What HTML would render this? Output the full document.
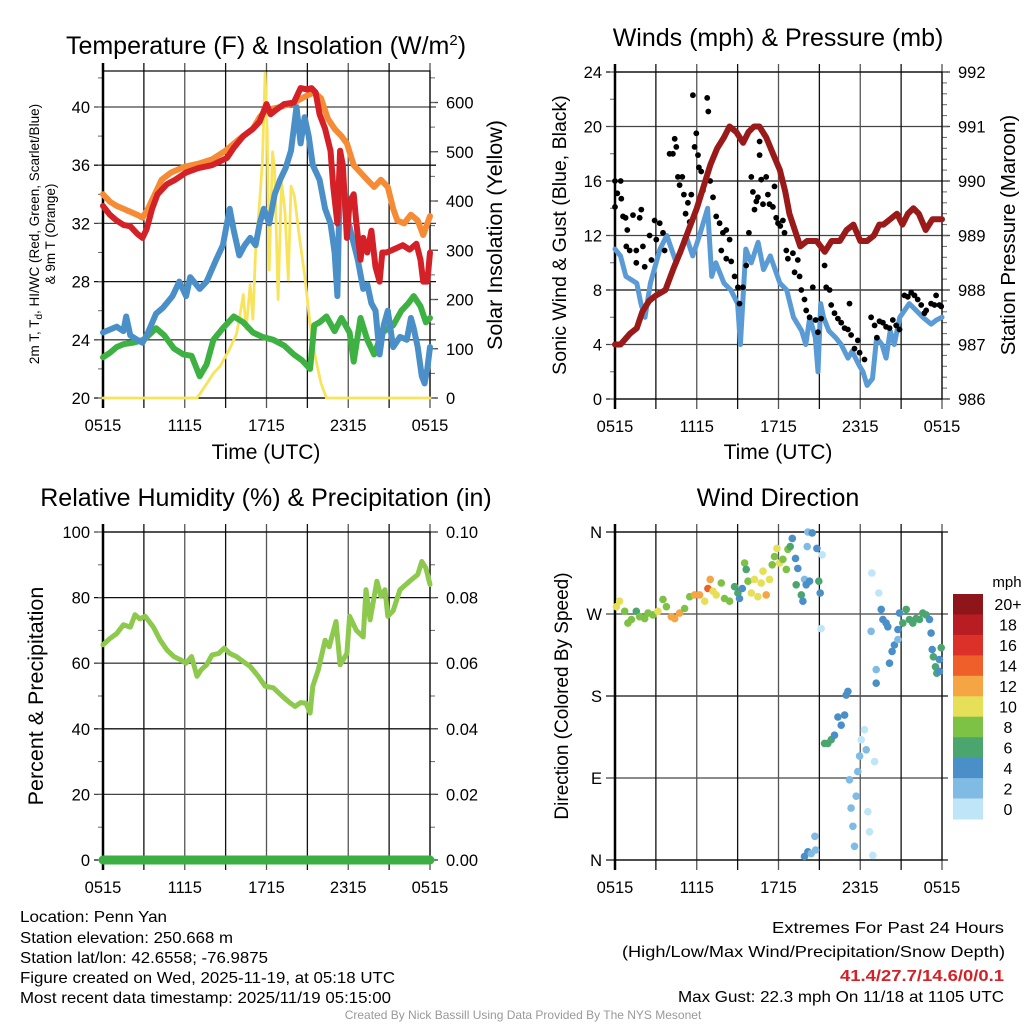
<!DOCTYPE html>
<html><head><meta charset="utf-8"><style>
html,body{margin:0;padding:0;background:#fff;}
svg{display:block;font-family:"Liberation Sans",Arial,sans-serif;}
</style></head><body>
<svg id="chart" width="1024" height="1024" viewBox="0 0 1024 1024" xmlns="http://www.w3.org/2000/svg">
<rect width="1024" height="1024" fill="#fff"/>
<g id="g-tl"></g>
<g id="g-tr"></g>
<g id="g-bl"></g>
<g id="g-br"></g>
<g id="g-cb"></g>

<text x="20" y="922" font-size="16" textLength="147" lengthAdjust="spacingAndGlyphs">Location: Penn Yan</text>
<text x="20" y="943" font-size="16" textLength="213" lengthAdjust="spacingAndGlyphs">Station elevation: 250.668 m</text>
<text x="20" y="963" font-size="16" textLength="248" lengthAdjust="spacingAndGlyphs">Station lat/lon: 42.6558; -76.9875</text>
<text x="20" y="983" font-size="16" textLength="375" lengthAdjust="spacingAndGlyphs">Figure created on Wed, 2025-11-19, at 05:18 UTC</text>
<text x="20" y="1003" font-size="16" textLength="371" lengthAdjust="spacingAndGlyphs">Most recent data timestamp: 2025/11/19 05:15:00</text>
<text x="772" y="933" font-size="16" textLength="232" lengthAdjust="spacingAndGlyphs">Extremes For Past 24 Hours</text>
<text x="622" y="957" font-size="16" textLength="383" lengthAdjust="spacingAndGlyphs">(High/Low/Max Wind/Precipitation/Snow Depth)</text>
<text x="840" y="981" font-size="16" font-weight="bold" fill="#d42027" textLength="164" lengthAdjust="spacingAndGlyphs">41.4/27.7/14.6/0/0.1</text>
<text x="678" y="1002" font-size="16" textLength="326" lengthAdjust="spacingAndGlyphs">Max Gust: 22.3 mph On 11/18 at 1105 UTC</text>
<text x="523" y="1019" font-size="12" fill="#999" text-anchor="middle">Created By Nick Bassill Using Data Provided By The NYS Mesonet</text>
</svg>
<script>
// ---- shared axis data ----
const timeTickLabels = ["0515","1115","1715","2315","0515"];
const timeTickHours = [0,6,12,18,24];

// ---- temperature panel data ----
const redH = [0,0.5,1,1.5,2,2.5,2.9,3.2,3.6,4,4.7,5.3,6.1,7,8,9.1,9.6,10.3,11,11.5,12,12.3,12.7,13.3,14,14.5,15,15.3,15.6,15.9,16.3,16.7,16.9,17.2,17.4,17.6,17.9,18.1,18.4,18.6,18.9,19.1,19.4,19.7,20,20.3,20.5,20.8,21.3,22,22.5,23,23.3,23.5,23.8,24];
const redV = [33.2,32.6,32.2,31.9,31.8,31.3,31.0,31.6,33,34,34.7,35,35.5,35.8,36,36.5,37.2,38,38.5,39,40.2,39.5,39.8,40.2,40.3,41.3,41.2,41.3,41,39.5,38.5,37,34.5,32,37,36,31,33.5,34,32,29.5,31,30,31.5,29,28,30,30,30.2,30.5,30.2,30.6,29.5,28,28,30];
const orangeH = [0,0.5,1,1.5,2,2.5,2.9,3.3,3.8,4.3,5,6,7,8,9,10,11,11.5,12,13,14,15,15.5,16,16.5,17,17.5,17.9,18.4,18.9,19.4,19.9,20.4,20.9,21.3,21.6,22.1,22.6,23.1,23.5,24];
const orangeV = [34,33.5,33.2,33,32.8,32.6,32.4,33,34,35,35.5,35.9,36.1,36.4,37,37.8,38.5,39.3,39.8,40,40.3,40.8,41,40.6,39.2,38.5,38,37.5,36,35.5,35,34.5,35,34.5,33,32.2,32,32.6,32.2,31.2,32.5];
const blueH = [0,0.5,1,1.5,1.7,2,2.5,2.9,3.3,3.9,4.4,5.1,5.6,6.1,6.4,7.1,7.6,8.3,8.8,9.3,9.6,10,10.4,10.8,11.2,11.5,11.8,12.2,12.6,13,13.4,13.8,14.2,14.5,14.8,15.1,15.4,15.9,16.3,16.7,17,17.2,17.4,17.7,17.9,18.3,18.7,19.1,19.4,19.7,20,20.3,20.6,20.9,21.3,21.8,22.3,22.6,22.8,23.1,23.4,23.6,23.8,24];
const blueV = [24.5,24.7,24.9,24.6,25.6,24.3,24.0,23.8,24.5,25.8,26.2,27,28,27,28.3,27.5,28,29.5,30.5,33,31.5,29.8,30.5,31,30.5,32,33,32,34,35,35.8,37,40,37.5,39.3,38,36,35,33,32,30,27,36,34,32.5,31,29.5,27.5,27.8,26.5,26,23,25,26,23.5,24.2,24,25.5,24.8,23.5,21.5,21,22,23.5];
const greenH = [0,0.5,1,1.5,2.2,3,3.9,4.5,5.2,5.9,6.5,7.1,7.6,8.1,8.8,9.6,10.3,11,11.7,12.5,13.3,14,14.6,15.2,15.5,15.9,16.4,17,17.5,18.1,18.4,18.9,19.4,19.9,20.5,21.3,21.9,22.4,22.8,23.3,23.7,24];
const greenV = [22.8,23.1,23.5,23.7,23.8,24,24.8,24.3,23.4,23,22.9,21.5,22.3,24,24.8,25.6,25.2,24.5,24.2,24,23.6,23,22.6,22,25,25.2,25.6,24.6,25.5,24.5,22.5,25.5,24,23,24.5,25,26,26.5,27,26.3,25.2,25.5];
const solarH = [0,6.9,7.4,8.1,8.6,9.3,9.8,10,10.3,10.5,10.8,11,11.2,11.5,11.7,11.9,12.05,12.2,12.45,12.6,12.85,13.1,13.35,13.6,13.8,14.05,14.4,14.8,15.2,15.6,16.0,16.4,24];
const solarV = [0,0,20,50,65,100,130,160,210,140,230,160,300,400,480,660,540,260,500,460,200,440,380,240,430,410,330,250,150,80,30,0,0];

// ---- wind panel data ----
const presH = [0,0.4,1.1,1.6,2,2.5,3,3.7,4.3,4.8,5.4,6,6.5,7,7.5,8,8.4,8.9,9.4,9.8,10.2,10.6,11.1,11.6,12.1,12.5,12.8,13.2,13.6,14.1,14.8,15.1,15.4,15.9,16.5,17,17.5,18,18.5,19,19.4,19.7,20.2,20.7,21.1,21.5,21.9,22.3,22.8,23.3,24];
const presV = [987,987,987.2,987.3,987.6,987.8,987.9,988,988.4,988.7,989.1,989.5,989.9,990.3,990.6,990.8,991,990.9,990.7,990.9,991,991,990.8,990.5,990.2,989.8,989.4,989.1,988.8,988.9,988.9,988.8,988.7,988.9,988.9,989.1,989.2,988.9,988.9,989,989.2,989.2,989.3,989.4,989.2,989.4,989.5,989.4,989.1,989.3,989.3];
const windH = [0,0.4,0.8,1.6,1.9,2.2,2.6,3.3,3.8,4.5,5.2,5.7,6.2,6.8,7.1,7.4,8,8.5,9,9.2,9.6,10,10.5,10.9,11.4,12.1,12.6,13.1,13.7,14,14.3,14.7,14.9,15.1,15.3,15.7,16.2,16.6,17.1,17.4,17.9,18.2,18.5,18.9,19.2,19.6,19.9,20.2,20.5,20.9,21.6,22.1,22.6,23.2,23.6,24];
const windV = [11,10.5,9,8.5,7,6,8.5,11,12,10,12,10.5,12,14,9,10,8.5,8,7,4,11,10,11.5,9.5,10.5,8.5,8,6,5,4,6,4.5,2,7,6,5,4.5,4,3,3.5,2.5,2,1,1.5,4.5,4,3,5,4,6,7,6.5,6,5.5,5.8,6];
const gustH = [0,0,0.17,0.42,0.46,0.59,0.78,0.9,0.83,1.08,1.32,1.56,1.56,1.81,1.93,2.05,2.18,2.54,2.67,2.91,3.03,3.28,3.52,3.64,4.01,4.25,4.38,4.5,4.62,4.74,4.94,5.06,5.18,5.35,5.48,5.6,5.72,5.84,5.97,6.09,6.16,6.33,6.45,6.77,6.85,6.99,7.19,7.43,7.68,7.92,8.17,8.41,7.8,8.17,8.53,8.78,9.02,9.39,9.14,9.63,9.83,10,10.12,10.24,10.37,10.49,10.61,10.61,10.73,10.86,11.1,11.22,11.34,11.59,11.71,11.83,11.96,12.13,12.32,12.44,12.57,12.69,13.06,13.18,13.42,13.55,13.67,13.91,14.03,14.28,14.52,14.72,14.89,15.13,15.38,15.5,15.75,15.87,16.11,16.36,16.6,16.85,17.09,17.21,17.33,17.58,17.82,17.95,18.31,18.8,19.05,19.22,19.41,19.66,19.9,20.15,20.39,20.64,20.88,21.25,21.49,21.74,21.98,22.22,22.47,22.71,22.84,23.2,23.45,23.57,23.81,23.94];
const gustV = [16,14.1,15.1,16,14.7,13.4,13.3,12.4,11.2,10.9,13.5,10.9,10,13.3,13.9,11.2,9.7,12,10.2,13.1,11.7,12.9,12.2,10.9,18,18,19.1,18.5,16.3,15.7,16.3,15,13.6,14.4,13,15,22.3,18.5,19.5,17.9,17,16.7,15.3,22.1,21.1,16,14.8,13.4,12.9,12.2,12.4,11.7,10.9,10.3,10.1,9,8.2,8.2,7,9.8,12.2,16.3,15.2,13.9,14.5,14.8,17.9,18.9,16.1,14.3,16.3,15,14.3,14.1,15.6,13.3,12.9,12.7,13.1,12.2,10.9,10.3,10.7,9.3,10.2,9,8,7.3,6.5,6,8.2,5.8,4.9,5.9,9.8,8.2,8,6.9,6.3,5.9,5.6,5.2,5.1,7,4.7,3.7,4.3,3.4,2.9,6,5.4,4.5,5.7,5.6,5.3,5.2,5.8,5.4,5.1,7.6,7.5,7.8,7.6,7.3,6.9,6.3,6.5,7,6.9,7.6,6.9,6.8];

// ---- humidity panel data ----
const rhH = [0,0.5,1,1.5,2,2.35,2.7,3.1,3.7,4.2,4.7,5.2,5.7,6.1,6.5,6.9,7.2,7.6,8,8.5,8.9,9.3,9.8,10.3,10.8,11.4,11.9,12.5,13.2,13.7,14.1,14.5,14.9,15.2,15.4,15.8,16.3,16.6,17.1,17.4,17.9,18.1,18.6,19.1,19.3,19.6,20.1,20.4,20.7,20.9,21.3,21.8,22.5,23.1,23.4,23.7,24];
const rhV = [65.6,67.5,69,71.7,71,74.8,73.5,74.3,71,67,64,62,61,60,62,56,58,59.5,62.5,63,64.6,63,62,60.5,59,56,53,52.5,49.8,48,46.8,48,47.8,44.8,53,58,67,65,72.7,59.5,63,74.3,70,68,82.4,73.2,85,80.4,82.4,74.3,76,82.4,85,87,91,89,84];
const precipH = [0,24];
const precipV = [0,0];

// ---- wind direction panel data ----
const dirH = [0.1,0.34,0.71,0.95,1.2,1.56,1.81,2.18,2.42,2.79,3.15,3.52,3.77,4.13,4.38,4.74,5.11,5.48,5.84,6.21,6.58,6.82,6.99,7.19,7.43,7.8,8.04,8.41,8.78,9.02,9.14,9.34,9.51,9.63,9.76,10,10.24,10.49,10.73,10.86,11.1,11.34,11.54,11.71,11.88,12.08,12.32,12.57,12.69,12.86,13.01,13.25,13.42,13.3,13.67,13.79,13.91,14.03,14.11,14.28,14.16,14.47,14.82,14.96,15.06,15.21,15.13,15.38,15.62,15.87,16.11,16.36,16.6,16.85,16.97,17.09,17.21,17.33,17.46,17.58,17.7,17.82,17.95,18.07,18.31,18.44,18.56,18.68,18.85,18.92,19.05,18.8,19.36,19.17,19.17,19.54,19.66,19.9,20.02,20.15,20.34,20.51,20.76,20.76,20.88,21.12,21.37,21.61,21.86,22.1,22.35,22.59,22.84,23.08,23.2,23.28,23.37,23.52,23.62,23.81,23.94,23.81,13.91,14.16,14.4,14.72,14.67];
const dirV = [278,284,273,260,264,273,267,265,271,269,273,286,278,267,265,271,276,289,291,291,284,298,308,295,291,304,287,284,300,293,287,298,326,319,306,293,308,289,304,317,291,308,324,333,342,326,330,319,341,344,353,331,320,302,291,284,308,302,344,306,360,359,342,306,293,335,254,128,128,132,137,157,148,159,181,185,88,57,37,15,70,97,114,132,143,121,53,31,315,5,108,251,293,209,194,275,264,260,256,216,229,236,242,253,271,260,275,264,260,265,264,271,269,264,249,231,223,212,205,207,233,220,4,9,7,11,26];
const dirSpeed = [10,10,8,8,8,6,8,8,8,8,10,8,8,12,12,12,8,8,12,12,10,14,12,10,10,8,8,8,6,6,4,4,8,6,8,10,10,10,10,10,12,10,8,8,10,10,8,8,8,6,4,4,4,6,6,4,2,4,2,4,2,4,4,6,4,0,0,6,6,6,4,4,4,4,4,4,2,2,2,2,2,2,2,1,1,2,1,0,0,0,0,2,1,2,4,4,4,4,4,4,4,4,2,4,4,6,6,6,6,6,6,6,6,4,4,4,6,6,6,4,6,4,4,4,2,2,2];
const speedBinLabels = ["20+","18","16","14","12","10","8","6","4","2","0"];
const speedBinColors = ["#8e1519","#b81d24","#dc3128","#ee5f29","#f6a544","#e6df58","#7dc145","#4aa66e","#4a8fc8","#80bbe3","#bfe5f8"];

const NS = "http://www.w3.org/2000/svg";
function mk(parent, tag, attrs, txt) {
  const e = document.createElementNS(NS, tag);
  for (const k in attrs) e.setAttribute(k, attrs[k]);
  if (txt !== undefined) e.textContent = txt;
  parent.appendChild(e);
  return e;
}
function linScale(d0, d1, r0, r1) { return v => r0 + (v - d0) / (d1 - d0) * (r1 - r0); }

function panelFrame(g, x0, x1, y0, y1, xs, yTicks, yScale, yLabels, rTicks, rScale, rLabels, minorL, minorR) {
  yTicks.forEach((v, i) => {
    const y = yScale(v);
    const l = mk(g, "line", {x1: x0 - 9, x2: x1 + 6, y1: y, y2: y, stroke: (i % 2 ? "#444" : "#111"), "stroke-width": 1.3});
    
    
    const t = mk(g, "text", {x: x0 - 13, y: y + 6, "font-size": 16.5, "text-anchor": "end"}, yLabels[i]);
    
    
  });
  minorL.forEach(v => {
    const y = yScale(v);
    mk(g, "line", {x1: x0 - 5, x2: x0, y1: y, y2: y, stroke: "#666", "stroke-width": 1});
  });
  if (rTicks) {
    rTicks.forEach((v, i) => {
      const y = rScale(v);
      mk(g, "line", {x1: x1, x2: x1 + 8, y1: y, y2: y, stroke: "#444", "stroke-width": 1.3});
      const t = mk(g, "text", {x: x1 + 16, y: y + 6, "font-size": 16.5}, rLabels[i]);
      
      
    });
    minorR.forEach(v => {
      const y = rScale(v);
      mk(g, "line", {x1: x1, x2: x1 + 5, y1: y, y2: y, stroke: "#666", "stroke-width": 1});
    });
  }
  for (let h = 0; h <= 24; h += 3) {
    const x = xs(h);
    const l = mk(g, "line", {x1: x, x2: x, y1: y0 - 8, y2: y1 + 10, stroke: (h % 6 ? "#111" : "#555"), "stroke-width": 1.3});
    
    
  }
  timeTickHours.forEach((h, i) => {
    const t = mk(g, "text", {x: xs(h), y: y1 + 33, "font-size": 16.5, "text-anchor": "middle"}, timeTickLabels[i]);
    
    
  });
  const f = mk(g, "rect", {x: x0, y: y0, width: x1 - x0, height: y1 - y0, fill: "none", stroke: "#000", "stroke-width": 1.2});
  
  
  mk(g, "line", {x1: x0, x2: x0, y1: y0 - 8, y2: y1 + 10, stroke: "#000", "stroke-width": 2.5});
}
function polyline(g, xs, ys, H, V, color, w, name) {
  const pts = H.map((h, i) => xs(h).toFixed(1) + "," + ys(V[i]).toFixed(1)).join(" ");
  const p = mk(g, "polyline", {points: pts, fill: "none", stroke: color, "stroke-width": w, "stroke-linejoin": "round", "stroke-linecap": "round"});
  
  
  return p;
}
function range(a, b, s) { const r = []; for (let v = a; v <= b + 1e-9; v += s) r.push(+v.toFixed(4)); return r; }
function title(g, x, y, txt, name, size) {
  const t = mk(g, "text", {x: x, y: y, "font-size": size || 25, "text-anchor": "middle"}, txt);
  
  
  return t;
}
function vtitle(g, x, y, txt, name, size) {
  const t = mk(g, "text", {x: x, y: y, "font-size": size, "text-anchor": "middle", transform: "rotate(-90 " + x + " " + y + ")"}, txt);
  
  
  return t;
}

// ---------- Temperature panel ----------
(function () {
  const g = document.getElementById("g-tl");
  const xs = linScale(0, 24, 103, 430);
  const yT = linScale(20, 40, 398, 107);
  const yS = linScale(0, 600, 398, 102.5);
  panelFrame(g, 103, 430, 71, 398, xs, [20,24,28,32,36,40], yT, ["20","24","28","32","36","40"],
    [0,100,200,300,400,500,600], yS, ["0","100","200","300","400","500","600"], range(20, 42, 2), range(0, 660, 50));
  polyline(g, xs, yS, solarH, solarV, "#f8e45c", 2.8, "solar-insolation-line");
  polyline(g, xs, yT, greenH, greenV, "#3db142", 6, "dewpoint-line");
  polyline(g, xs, yT, blueH, blueV, "#4a8fc8", 6, "wind-chill-line");
  polyline(g, xs, yT, orangeH, orangeV, "#f58b35", 6, "temp-9m-line");
  polyline(g, xs, yT, redH, redV, "#d42027", 6, "temp-2m-line");
  const t = title(g, 266, 54, "Temperature (F) & Insolation (W/m", "temperature-title");
  mk(t, "tspan", {dy: -9, "font-size": 15}, "2");
  mk(t, "tspan", {dy: 9}, ")");
  title(g, 266, 459, "Time (UTC)", "temp-x-axis-title", 21);
  const lt = vtitle(g, 39, 234, "", "temp-y-axis-title", 13.5);
  lt.textContent = "2m T, T";
  mk(lt, "tspan", {"font-size": 10, dy: 3}, "d");
  mk(lt, "tspan", {dy: -3}, ", HI/WC (Red, Green, Scarlet/Blue)");
  vtitle(g, 55, 234, "& 9m T (Orange)", "temp-y-axis-title-2", 13.5);
  vtitle(g, 502, 235, "Solar Insolation (Yellow)", "solar-axis-title", 21.5);
})();

// ---------- Winds panel ----------
(function () {
  const g = document.getElementById("g-tr");
  const xs = linScale(0, 24, 615, 942);
  const yW = linScale(0, 24, 399, 72);
  const yP = linScale(986, 992, 399, 72);
  panelFrame(g, 615, 942, 72, 399, xs, [0,4,8,12,16,20,24], yW, ["0","4","8","12","16","20","24"],
    [986,987,988,989,990,991,992], yP, ["986","987","988","989","990","991","992"], range(0, 24, 2), range(986, 992, 0.2));
  polyline(g, xs, yW, windH, windV, "#5a9bd5", 5, "sonic-wind-line");
  gustH.forEach((h, i) => {
    const c = mk(g, "circle", {cx: xs(h).toFixed(1), cy: yW(gustV[i]).toFixed(1), r: 2.9, fill: "#000"});
    
    
  });
  polyline(g, xs, yP, presH, presV, "#9a1a1a", 6, "pressure-line");
  title(g, 778, 46, "Winds (mph) & Pressure (mb)", "winds-title");
  title(g, 778, 459, "Time (UTC)", "winds-x-axis-title", 21);
  vtitle(g, 566, 235, "Sonic Wind & Gust (Blue, Black)", "winds-y-axis-title", 19.5);
  vtitle(g, 1015, 235, "Station Pressure (Maroon)", "pressure-axis-title", 20.5);
})();

// ---------- Humidity panel ----------
(function () {
  const g = document.getElementById("g-bl");
  const xs = linScale(0, 24, 103, 430);
  const yR = linScale(0, 100, 860, 532);
  const yPr = linScale(0, 0.1, 860, 532);
  panelFrame(g, 103, 430, 532, 860, xs, [0,20,40,60,80,100], yR, ["0","20","40","60","80","100"],
    [0,0.02,0.04,0.06,0.08,0.1], yPr, ["0.00","0.02","0.04","0.06","0.08","0.10"], range(0, 100, 10), range(0, 0.1, 0.01));
  polyline(g, xs, yR, rhH, rhV, "#8cc94c", 5, "relative-humidity-line");
  polyline(g, xs, yPr, precipH, precipV, "#3cae44", 9, "precipitation-line");
  title(g, 266, 506, "Relative Humidity (%) & Precipitation (in)", "humidity-title");
  vtitle(g, 43, 696, "Percent & Precipitation", "humidity-y-axis-title", 21.5);
})();

// ---------- Wind direction panel ----------
(function () {
  const g = document.getElementById("g-br");
  const xs = linScale(0, 24, 615, 942);
  const yD = linScale(0, 360, 860, 532);
  panelFrame(g, 615, 942, 532, 860, xs, [0,90,180,270,360], yD, ["N","E","S","W","N"], null, null, null, [], []);
  dirH.forEach((h, i) => {
    const bin = Math.min(10, Math.floor(dirSpeed[i] / 2));
    const c = mk(g, "circle", {cx: xs(h).toFixed(1), cy: yD(dirV[i]).toFixed(1), r: 3.8, fill: speedBinColors[10 - bin]});
    
    
  });
  title(g, 778, 506, "Wind Direction", "wind-direction-title");
  vtitle(g, 568, 696, "Direction (Colored By Speed)", "direction-y-axis-title", 19);
})();

// ---------- Colorbar ----------
(function () {
  const g = document.getElementById("g-cb");
  const top = 594, h = 225 / 11;
  speedBinLabels.forEach((lab, i) => {
    const r = mk(g, "rect", {x: 953, y: (top + i * h).toFixed(1), width: 30, height: (h + 0.5).toFixed(1), fill: speedBinColors[i]});
    
    
    const t = mk(g, "text", {x: 1008, y: (top + i * h + h / 2 + 6).toFixed(1), "font-size": 16, "text-anchor": "middle"}, lab);
    
    
  });
  const m = mk(g, "text", {x: 1007, y: 587, "font-size": 15, "text-anchor": "middle"}, "mph");
  
  
})();
</script>
</body></html>
